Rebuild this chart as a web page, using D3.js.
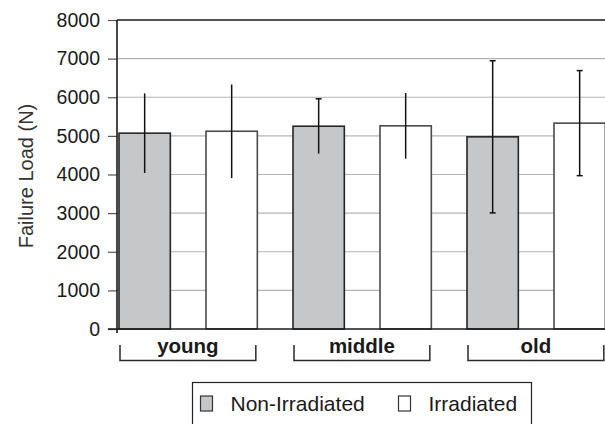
<!DOCTYPE html>
<html>
<head>
<meta charset="utf-8">
<script src="https://cdn.jsdelivr.net/npm/d3@7"></script>
<style>
  html, body { margin: 0; padding: 0; background: #fff; }
  svg { display: block; font-family: "Liberation Sans", Arial, sans-serif; }
</style>
</head>
<body>
<svg id="chart" width="605" height="424"></svg>
<script>
// --- data ---
const groups = ["young", "middle", "old"];
const series = ["Non-Irradiated", "Irradiated"];
const nonIrradiated = [5070, 5250, 4975];
const nonIrradiatedErr = [1030, 710, 1970];
const irradiated = [5120, 5260, 5330];
const irradiatedErr = [1210, 850, 1360];
const yTicks = [0, 1000, 2000, 3000, 4000, 5000, 6000, 7000, 8000];

const rows = [];
groups.forEach((g, i) => {
  rows.push({ group: g, series: series[0], value: nonIrradiated[i], err: nonIrradiatedErr[i] });
  rows.push({ group: g, series: series[1], value: irradiated[i], err: irradiatedErr[i] });
});

// which error bar ends carry a cap (as drawn in the original)
const caps = {
  "young|Non-Irradiated": [false, false],
  "young|Irradiated": [false, false],
  "middle|Non-Irradiated": [true, false],
  "middle|Irradiated": [false, false],
  "old|Non-Irradiated": [true, true],
  "old|Irradiated": [true, true]
};

const fills = { "Non-Irradiated": "#c6c7c9", "Irradiated": "#ffffff" };
const strokes = { "Non-Irradiated": "#262626", "Irradiated": "#4a4a4a" };

// --- layout ---
const svg = d3.select("#chart");
const plotLeft = 117, plotTop = 20, plotBottom = 329, plotRight = 608;

const y = d3.scaleLinear().domain([0, 8000]).range([plotBottom, plotTop]);
const x0 = d3.scaleBand().domain(groups).range([plotLeft + 2, plotLeft + 2 + 3 * 174]);
const x1 = d3.scaleBand().domain(series).range([0, x0.bandwidth()])
  .paddingInner(0.41).paddingOuter(0.205).align(0);

// gridlines
svg.append("g")
  .selectAll("line")
  .data(yTicks.filter(t => t > 0 && t < 8000))
  .join("line")
  .attr("x1", plotLeft).attr("x2", plotRight)
  .attr("y1", d => y(d)).attr("y2", d => y(d))
  .attr("stroke", "#b4b4b4").attr("stroke-width", 1.2);

// y axis with labels
const yAxis = svg.append("g")
  .attr("transform", `translate(${plotLeft},0)`)
  .call(d3.axisLeft(y).tickValues(yTicks).tickSize(9).tickPadding(8).tickFormat(d3.format("d")));
yAxis.select(".domain").remove();
yAxis.selectAll(".tick line").attr("stroke", "#555").attr("stroke-width", 1.2);
yAxis.selectAll(".tick text")
  .attr("fill", "#1a1a1a")
  .style("font-size", "19.5px");

// bars
svg.append("g").selectAll("rect")
  .data(rows)
  .join("rect")
  .attr("x", d => x0(d.group) + x1(d.series))
  .attr("y", d => y(d.value))
  .attr("width", x1.bandwidth())
  .attr("height", d => y(0) - y(d.value))
  .attr("fill", d => fills[d.series])
  .attr("stroke", d => strokes[d.series])
  .attr("stroke-width", 1.6);

// error bars
const errG = svg.append("g").attr("stroke", "#111").attr("stroke-width", 1.5);
rows.forEach(d => {
  const cx = x0(d.group) + x1(d.series) + x1.bandwidth() / 2;
  const yHi = y(d.value + d.err), yLo = y(d.value - d.err);
  errG.append("line").attr("x1", cx).attr("x2", cx).attr("y1", yHi).attr("y2", yLo);
  const c = caps[d.group + "|" + d.series];
  if (c[0]) errG.append("line").attr("x1", cx - 3).attr("x2", cx + 3).attr("y1", yHi).attr("y2", yHi);
  if (c[1]) errG.append("line").attr("x1", cx - 3).attr("x2", cx + 3).attr("y1", yLo).attr("y2", yLo);
});

// frame: y axis, top border, baseline
svg.append("line").attr("x1", plotLeft).attr("x2", plotLeft).attr("y1", plotTop).attr("y2", plotBottom + 4)
  .attr("stroke", "#1a1a1a").attr("stroke-width", 1.6);
svg.append("line").attr("x1", plotLeft).attr("x2", plotRight).attr("y1", plotTop).attr("y2", plotTop)
  .attr("stroke", "#1a1a1a").attr("stroke-width", 1.6);
svg.append("line").attr("x1", plotLeft - 9).attr("x2", plotRight).attr("y1", plotBottom).attr("y2", plotBottom)
  .attr("stroke", "#1a1a1a").attr("stroke-width", 1.6);

// group brackets and labels
const brG = svg.append("g");
groups.forEach(g => {
  const xa = x0(g) + 1;
  const xb = x0(g) + x1(series[1]) + x1.bandwidth() - 1.5;
  brG.append("path")
    .attr("d", `M${xa},345 V360.5 H${xb} V345`)
    .attr("fill", "none").attr("stroke", "#2a2a2a").attr("stroke-width", 1.5);
  brG.append("text")
    .attr("x", (xa + xb) / 2).attr("y", 353)
    .attr("text-anchor", "middle")
    .attr("font-weight", "bold")
    .style("font-size", "20.5px")
    .attr("fill", "#1a1a1a")
    .text(g);
});

// y axis title
svg.append("text")
  .attr("transform", "translate(33,176) rotate(-90)")
  .attr("text-anchor", "middle")
  .style("font-size", "20px")
  .attr("fill", "#333")
  .text("Failure Load (N)");

// legend
const lg = svg.append("g");
lg.append("rect")
  .attr("x", 192.5).attr("y", 382.5).attr("width", 339).attr("height", 60)
  .attr("fill", "#fff").attr("stroke", "#222").attr("stroke-width", 1.2);
const legendX = [200.5, 398.5];
series.forEach((s, i) => {
  lg.append("rect")
    .attr("x", legendX[i]).attr("y", 396).attr("width", 12).attr("height", 15)
    .attr("fill", fills[s]).attr("stroke", "#333").attr("stroke-width", 1.2);
  lg.append("text")
    .attr("x", legendX[i] + 30).attr("y", 411)
    .style("font-size", "21px")
    .attr("fill", "#1a1a1a")
    .text(s);
});
</script>
</body>
</html>
